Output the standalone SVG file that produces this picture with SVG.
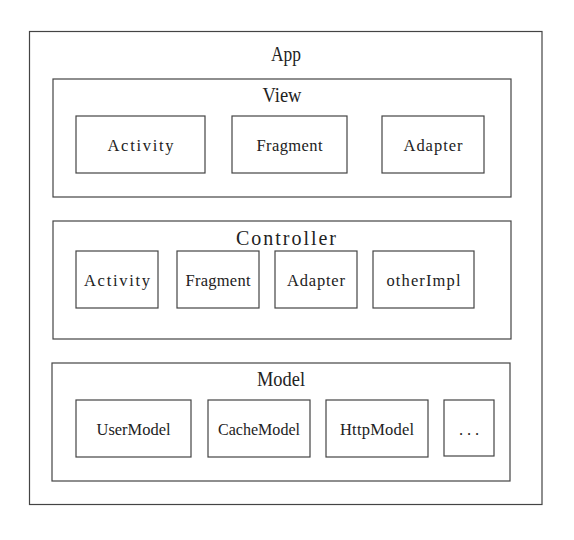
<svg xmlns="http://www.w3.org/2000/svg" width="574" height="540" viewBox="0 0 574 540">
<style>
rect{fill:#fff;stroke:#444;stroke-width:1.2}
text{font-family:"Liberation Serif","DejaVu Serif",serif;fill:#222;text-anchor:middle}
.t{font-size:20px}
.l{font-size:16.5px}
</style>
<rect x="0" y="0" width="574" height="540" style="stroke:none"/>
<g id="app">
<rect x="29.5" y="31.5" width="512.5" height="473"/>
<text class="t" x="286" y="61" textLength="30" lengthAdjust="spacingAndGlyphs">App</text>
</g>
<g id="view">
<rect x="53" y="79" width="458" height="118"/>
<text class="t" x="282" y="101.5" textLength="39" lengthAdjust="spacingAndGlyphs">View</text>
</g>
<g id="view-activity"><rect x="76" y="116" width="129" height="57"/><text class="l" x="140.5" y="150.5" textLength="66" lengthAdjust="spacing">Activity</text></g>
<g id="view-fragment"><rect x="232" y="116" width="115" height="57"/><text class="l" x="289.5" y="150.5" textLength="66" lengthAdjust="spacing">Fragment</text></g>
<g id="view-adapter"><rect x="382" y="116" width="102" height="57"/><text class="l" x="433" y="150.5" textLength="59" lengthAdjust="spacing">Adapter</text></g>
<g id="controller">
<rect x="53" y="221" width="458" height="118"/>
<text class="t" x="286" y="245" textLength="100" lengthAdjust="spacing">Controller</text>
</g>
<g id="ctrl-activity"><rect x="76" y="251" width="82" height="57"/><text class="l" x="117" y="285.5" textLength="66" lengthAdjust="spacing">Activity</text></g>
<g id="ctrl-fragment"><rect x="177" y="251" width="82" height="57"/><text class="l" x="218" y="285.5" textLength="65" lengthAdjust="spacing">Fragment</text></g>
<g id="ctrl-adapter"><rect x="275" y="251" width="82" height="57"/><text class="l" x="316" y="285.5" textLength="58" lengthAdjust="spacing">Adapter</text></g>
<g id="ctrl-otherimpl"><rect x="373" y="251" width="101" height="57"/><text class="l" x="423.5" y="285.5" textLength="74" lengthAdjust="spacing">otherImpl</text></g>
<g id="model">
<rect x="52" y="363" width="458" height="118"/>
<text class="t" x="281" y="386" textLength="48" lengthAdjust="spacingAndGlyphs">Model</text>
</g>
<g id="model-user"><rect x="76" y="400" width="115" height="57"/><text class="l" x="133.5" y="434.5" textLength="74" lengthAdjust="spacingAndGlyphs">UserModel</text></g>
<g id="model-cache"><rect x="208" y="400" width="102" height="57"/><text class="l" x="259" y="434.5" textLength="82" lengthAdjust="spacingAndGlyphs">CacheModel</text></g>
<g id="model-http"><rect x="326" y="400" width="102" height="57"/><text class="l" x="377" y="434.5" textLength="74" lengthAdjust="spacing">HttpModel</text></g>
<g id="model-more"><rect x="444" y="400" width="50" height="56"/><text class="l" x="469" y="434.5" textLength="20" lengthAdjust="spacing">...</text></g>
<g id="connectors"/>
</svg>
